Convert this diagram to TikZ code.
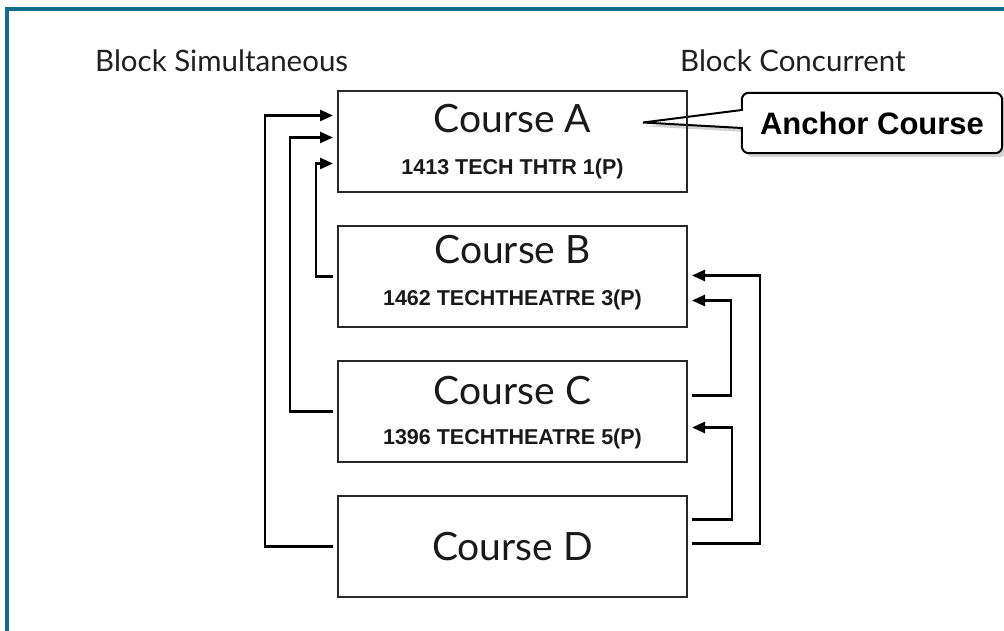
\documentclass[tikz,border=0pt]{standalone}
\usepackage{fontspec}
\setmainfont{Lato}
\newfontfamily\arialfont{Liberation Sans}
\usetikzlibrary{arrows.meta,positioning,calc,shadows,backgrounds}
\definecolor{frameteal}{RGB}{18,108,140}
\definecolor{boxline}{RGB}{40,40,40}

\tikzset{
  course/.style={draw=boxline, line width=2pt, minimum width=349pt, minimum height=101pt, inner sep=0pt},
  cname/.style={font=\fontsize{39}{44}\selectfont, text=black!90, anchor=base, inner sep=0pt},
  ccode/.style={font=\arialfont\bfseries\fontsize{21.5}{24}\selectfont, text=black!90, anchor=base, inner sep=0pt},
  blocklabel/.style={font=\fontsize{29.5}{34}\selectfont, text=black!88, anchor=base west, inner sep=0pt},
  link/.style={line width=2.6pt, -{Triangle[length=13pt,width=11pt]}, shorten <=4pt, shorten >=4pt},
}

\begin{document}
\begin{tikzpicture}[x=1pt,y=-1pt]
  \useasboundingbox (0,0) rectangle (1004,631);
  \draw[frameteal, line width=4pt] (7,631) -- (7,9) -- (1004,9);

  \node[blocklabel] (simul) at (95,72) {Block Simultaneous};
  \node[blocklabel] (concur) at (680,72) {Block Concurrent};

  % the four course boxes
  \node[course] (A) at (512.5,141.5) {};
  \node[course, below=32pt of A] (B) {};
  \node[course, below=32pt of B] (C) {};
  \node[course, below=32pt of C] (D) {};

  \node[cname] at ([yshift=9pt]A.center) {Course A};
  \node[ccode] at ([yshift=-33pt]A.center) {1413 TECH THTR 1(P)};
  \node[cname] at ([yshift=13pt]B.center) {Course B};
  \node[ccode] at ([yshift=-29pt]B.center) {1462 TECHTHEATRE 3(P)};
  \node[cname] at ([yshift=7pt]C.center) {Course C};
  \node[ccode] at ([yshift=-33pt]C.center) {1396 TECHTHEATRE 5(P)};
  \node[cname] at ([yshift=-14pt]D.center) {Course D};

  % block simultaneous (left)
  \draw[link] (D.west) -- ++(-72,0) |- ([yshift=26pt]A.west);
  \draw[link] (C.west) -- ++(-47,0) |- ([yshift=4pt]A.west);
  \draw[link] (B.west) -- ++(-21,0) |- ([yshift=-22pt]A.west);

  % block concurrent (right)
  \draw[link] ([yshift=16pt]C.east) -- ++(43,0) |- ([yshift=-24pt]B.east);
  \draw[link] ([yshift=27pt]D.east) -- ++(44,0) |- ([yshift=-16pt]C.east);
  \draw[link] ([yshift=3pt]D.east) -- ++(72,0) |- ([yshift=1pt]B.east);

  % anchor callout
  \node[font=\arialfont\bfseries\fontsize{31}{34}\selectfont, minimum width=260pt, minimum height=60pt, inner sep=0pt] (anch) at (872,123) {Anchor Course};
  \begin{scope}[on background layer]
    \draw[line width=2pt, fill=white, drop shadow={opacity=0.35, shadow xshift=4pt, shadow yshift=-4pt}]
      ([yshift=13pt]anch.west) [rounded corners=7pt] -- (anch.north west) -- (anch.north east)
      -- (anch.south east) -- (anch.south west) [sharp corners] -- ([yshift=-5pt]anch.west)
      -- ([xshift=-45pt,yshift=19pt]A.east) -- cycle;
  \end{scope}
\end{tikzpicture}
\end{document}
